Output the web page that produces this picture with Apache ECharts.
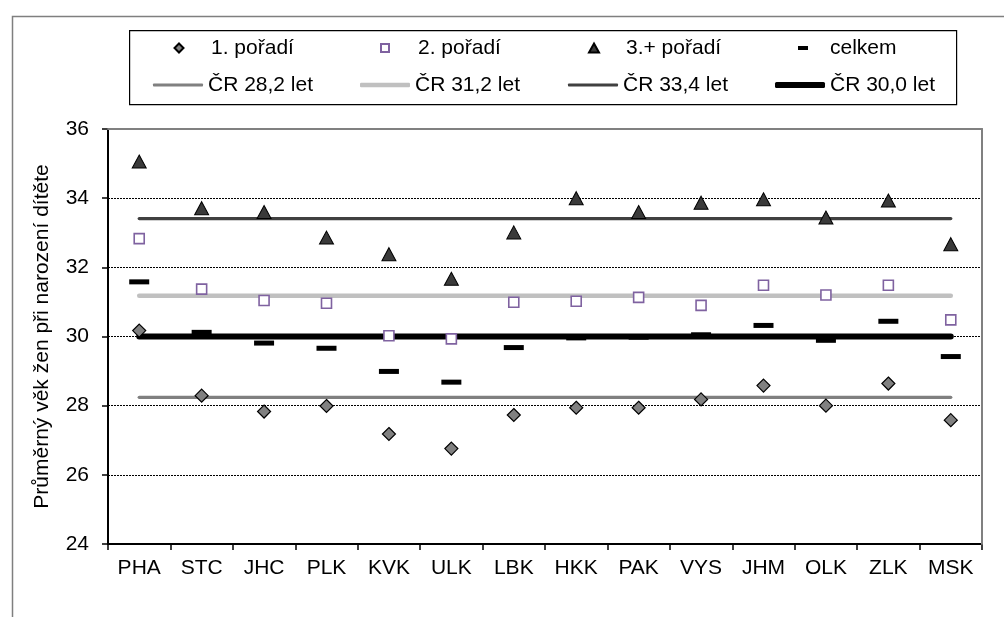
<!DOCTYPE html>
<html>
<head>
<meta charset="utf-8">
<script src="https://cdn.jsdelivr.net/npm/echarts@6/dist/echarts.min.js"></script>
<style>
html,body{margin:0;padding:0;background:#fff;}
#chart{width:1004px;height:617px;}
</style>
</head>
<body>
<div id="chart"></div>
<script>
// ---- data ----
var categories = ['PHA','STC','JHC','PLK','KVK','ULK','LBK','HKK','PAK','VYS','JHM','OLK','ZLK','MSK'];
var first  = [30.17, 28.29, 27.83, 27.99, 27.18, 26.76, 27.73, 27.94, 27.94, 28.18, 28.58, 28.00, 28.64, 27.58];
var second = [32.83, 31.37, 31.04, 30.96, 30.02, 29.93, 30.99, 31.02, 31.13, 30.90, 31.48, 31.20, 31.48, 30.48];
var third  = [35.06, 33.71, 33.60, 32.86, 32.38, 31.67, 33.01, 34.00, 33.60, 33.87, 33.97, 33.44, 33.93, 32.67];
var total  = [31.58, 30.12, 29.81, 29.66, 28.99, 28.68, 29.68, 29.96, 29.98, 30.05, 30.32, 29.89, 30.44, 29.42];
var refNames  = ['ČR 28,2 let', 'ČR 31,2 let', 'ČR 33,4 let', 'ČR 30,0 let'];
var refValues = [28.24, 31.18, 33.41, 30.00];
var pointNames = ['1. pořadí', '2. pořadí', '3.+ pořadí', 'celkem'];
var yTicks = {min: 24, max: 36, step: 2};
var yTitle = 'Průměrný věk žen při narození dítěte';

// ---- styling ----
var FONT = 'Liberation Sans, Arial, sans-serif';
var FS = 21;
var refColors = ['#808080', '#c0c0c0', '#404040', '#000000'];
var refWidths = [3.2, 4.5, 3.2, 6];

var chart = echarts.init(document.getElementById('chart'));

function refSeries(i) {
  return {
    name: refNames[i], type: 'line', z: 2, symbol: 'none', showSymbol: false,
    silent: true, animation: false,
    lineStyle: {color: refColors[i], width: refWidths[i], cap: 'round'},
    itemStyle: {color: refColors[i]},
    data: [[categories[0], refValues[i]], [categories[categories.length - 1], refValues[i]]]
  };
}

function lg(name, left, top, w, h, pad, extra) {
  var o = {
    padding: 0, selectedMode: false, orient: 'horizontal',
    data: [name], left: left, top: top, itemWidth: w, itemHeight: h,
    textStyle: {fontFamily: FONT, fontSize: FS, color: '#000', padding: [0, 0, 0, pad]}
  };
  return Object.assign(o, extra || {});
}
function lgLine(i, left) {
  var h = refWidths[i];
  return lg(refNames[i], left, 74.5, 50, h, 0, {icon: 'roundRect', symbolKeepAspect: false});
}

var option = {
  backgroundColor: '#fff',
  animation: false,
  textStyle: {fontFamily: FONT},
  graphic: [
    {type: 'rect', left: 10, top: 14, shape: {width: 1100, height: 700}, style: {fill: 'none', stroke: '#7f7f7f', lineWidth: 1.5}, z: -1, silent: true},
    {type: 'rect', left: 129, top: 30, shape: {width: 827, height: 74}, style: {fill: '#fff', stroke: '#000', lineWidth: 1.2}, z: -1, silent: true}
  ],
  legend: [
    lg(pointNames[0], 173.5, 37.5, 9, 9, 22.5),
    lg(pointNames[1], 380, 37.5, 8, 8, 24),
    lg(pointNames[2], 588, 37.5, 10, 9, 22),
    lg(pointNames[3], 798, 37.5, 10, 4, 17, {symbolKeepAspect: false}),
    lgLine(0, 153),
    lgLine(1, 360),
    lgLine(2, 568),
    lgLine(3, 775)
  ],
  grid: {left: 108, top: 129, right: 22, bottom: 73, containLabel: false},
  xAxis: [
    {
      type: 'category', data: categories, boundaryGap: true, position: 'bottom',
      axisLine: {show: true, lineStyle: {color: '#000', width: 2}},
      axisTick: {show: true, inside: false, length: 6, alignWithLabel: false, interval: 0, lineStyle: {color: '#000', width: 1.5}},
      axisLabel: {interval: 0, margin: 14, fontSize: FS, color: '#000', fontFamily: FONT},
      splitLine: {show: false}
    },
    {
      type: 'category', data: categories, boundaryGap: true, position: 'top', z: 3,
      axisLine: {show: true, lineStyle: {color: '#808080', width: 2}},
      axisTick: {show: false}, axisLabel: {show: false}, splitLine: {show: false}
    }
  ],
  yAxis: [
    {
      type: 'value', min: yTicks.min, max: yTicks.max, interval: yTicks.step, position: 'left',
      name: yTitle, nameLocation: 'middle', nameGap: 55, nameRotate: 90,
      nameTextStyle: {fontSize: FS, color: '#000', fontFamily: FONT},
      axisLine: {show: true, lineStyle: {color: '#000', width: 2}},
      axisTick: {show: true, inside: false, length: 6, lineStyle: {color: '#000', width: 1.5}},
      axisLabel: {margin: 19, fontSize: FS, color: '#000', fontFamily: FONT},
      splitLine: {show: true, lineStyle: {color: '#000', width: 1, type: [2, 1]}}
    },
    {
      type: 'value', min: yTicks.min, max: yTicks.max, interval: yTicks.step, position: 'right', z: 3,
      axisLine: {show: true, lineStyle: {color: '#808080', width: 2}},
      axisTick: {show: false}, axisLabel: {show: false}, splitLine: {show: false}
    }
  ],
  series: [
    refSeries(0), refSeries(1), refSeries(2), refSeries(3),
    {
      name: pointNames[3], type: 'scatter', z: 4, symbol: 'rect', symbolSize: [20, 5],
      itemStyle: {color: '#000', opacity: 1}, data: total
    },
    {
      name: pointNames[0], type: 'scatter', z: 5, symbol: 'diamond', symbolSize: 13,
      itemStyle: {color: '#808080', borderColor: '#000', borderWidth: 1.2, opacity: 1}, data: first
    },
    {
      name: pointNames[1], type: 'scatter', z: 5, symbol: 'rect', symbolSize: 10,
      itemStyle: {color: '#fff', borderColor: '#7f62a0', borderWidth: 1.6, opacity: 1}, data: second
    },
    {
      name: pointNames[2], type: 'scatter', z: 5, symbol: 'triangle', symbolSize: [14, 13],
      itemStyle: {color: '#3a3a3a', borderColor: '#000', borderWidth: 1, opacity: 1}, data: third
    }
  ]
};
chart.setOption(option);
</script>
</body>
</html>
